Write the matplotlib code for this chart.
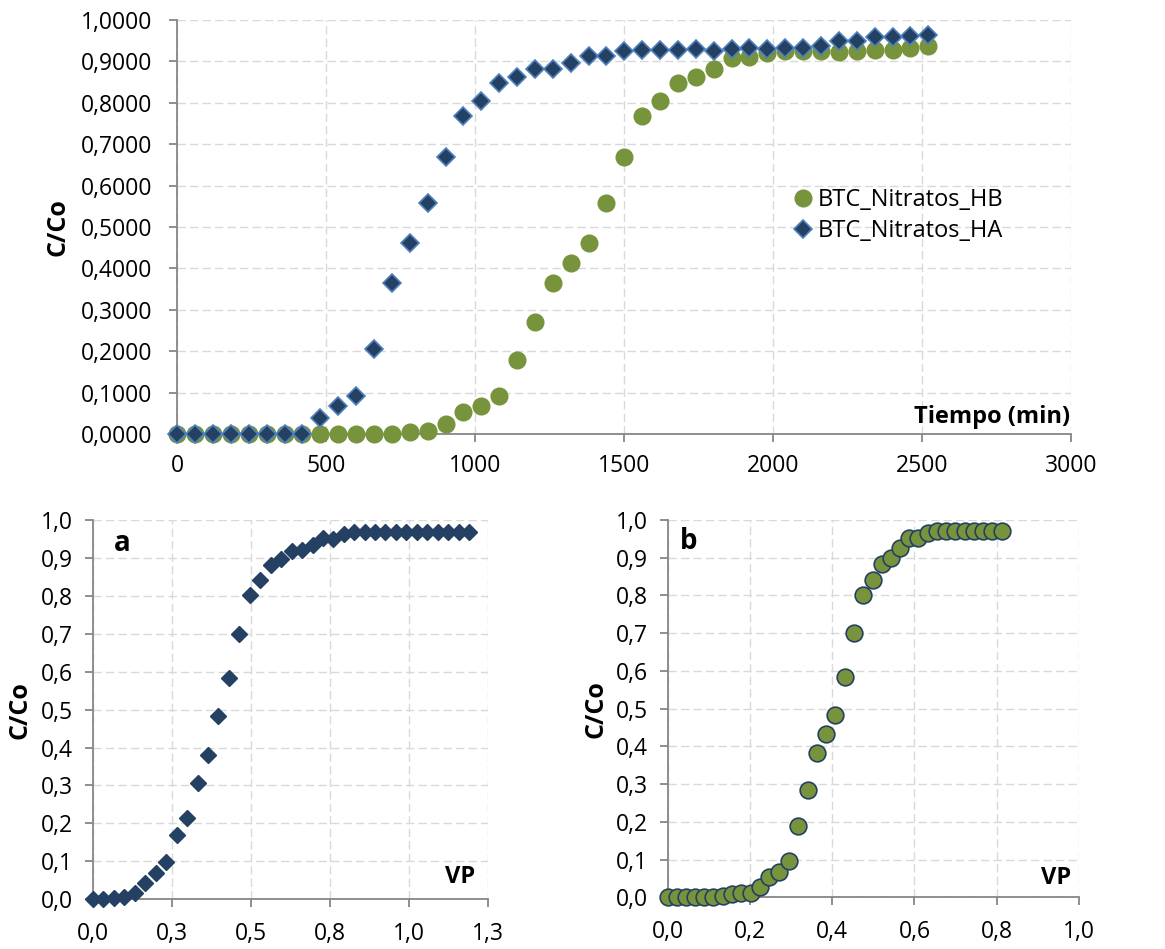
import matplotlib
matplotlib.use("Agg")
import matplotlib.pyplot as plt

plt.rcParams['font.family'] = ['Open Sans', 'DejaVu Sans']

# top chart: breakthrough curves vs time
time_min = [0, 60, 120, 180, 240, 300, 360, 420, 480, 540, 600, 660, 720, 780, 840,
            900, 960, 1020, 1080, 1140, 1200, 1260, 1320, 1380, 1440, 1500, 1560,
            1620, 1680, 1740, 1800, 1860, 1920, 1980, 2040, 2100, 2160, 2220, 2280,
            2340, 2400, 2460, 2520]
btc_hb = [0, 0, 0, 0, 0, 0, 0, 0, 0, 0, 0, 0, 0.001, 0.004, 0.008, 0.025, 0.052,
          0.067, 0.091, 0.179, 0.270, 0.365, 0.414, 0.462, 0.558, 0.668, 0.767,
          0.803, 0.847, 0.861, 0.882, 0.909, 0.910, 0.921, 0.924, 0.925, 0.925,
          0.922, 0.926, 0.928, 0.928, 0.931, 0.937]
btc_ha = [0, 0, 0, 0, 0, 0, 0, 0, 0.039, 0.068, 0.092, 0.206, 0.365, 0.462, 0.558,
          0.668, 0.767, 0.804, 0.847, 0.861, 0.881, 0.882, 0.896, 0.912, 0.913,
          0.926, 0.928, 0.928, 0.928, 0.929, 0.924, 0.929, 0.932, 0.930, 0.933,
          0.933, 0.936, 0.949, 0.948, 0.958, 0.958, 0.961, 0.963]

# panel a (HA) vs pore volumes
vp_a = [0, 0.032, 0.065, 0.098, 0.132, 0.165, 0.198, 0.230, 0.264, 0.297, 0.331,
        0.363, 0.396, 0.430, 0.463, 0.497, 0.529, 0.562, 0.596, 0.629, 0.663,
        0.695, 0.728, 0.761, 0.794, 0.827, 0.860, 0.893, 0.926, 0.959, 0.992,
        1.026, 1.059, 1.092, 1.125, 1.158, 1.191]
cc_a = [0, 0, 0.003, 0.005, 0.016, 0.042, 0.070, 0.097, 0.170, 0.215, 0.306,
        0.381, 0.482, 0.583, 0.699, 0.801, 0.842, 0.881, 0.897, 0.919, 0.921,
        0.934, 0.952, 0.949, 0.963, 0.967, 0.969, 0.969, 0.969, 0.969, 0.969,
        0.969, 0.969, 0.969, 0.969, 0.969, 0.969]

# panel b (HB) vs pore volumes
vp_b = [0, 0.022, 0.045, 0.066, 0.089, 0.111, 0.134, 0.156, 0.179, 0.203, 0.225,
        0.247, 0.271, 0.294, 0.317, 0.340, 0.362, 0.385, 0.408, 0.430, 0.452,
        0.476, 0.498, 0.520, 0.542, 0.565, 0.587, 0.609, 0.632, 0.654, 0.677,
        0.699, 0.722, 0.745, 0.767, 0.789, 0.812]
cc_b = [0, 0, 0, 0, 0, 0, 0.003, 0.008, 0.011, 0.011, 0.028, 0.055, 0.068, 0.096,
        0.189, 0.283, 0.383, 0.432, 0.483, 0.585, 0.700, 0.801, 0.841, 0.882,
        0.898, 0.925, 0.951, 0.951, 0.966, 0.971, 0.971, 0.971, 0.971, 0.971,
        0.971, 0.971, 0.971]

top_xticks = [0, 500, 1000, 1500, 2000, 2500, 3000]
top_yticks = [0, 0.1, 0.2, 0.3, 0.4, 0.5, 0.6, 0.7, 0.8, 0.9, 1.0]
top_ylabels = ['0,0000', '0,1000', '0,2000', '0,3000', '0,4000', '0,5000',
               '0,6000', '0,7000', '0,8000', '0,9000', '1,0000']
panel_yticks = [0, 0.1, 0.2, 0.3, 0.4, 0.5, 0.6, 0.7, 0.8, 0.9, 1.0]
panel_ylabels = ['0,0', '0,1', '0,2', '0,3', '0,4', '0,5', '0,6', '0,7', '0,8', '0,9', '1,0']
a_xticks = [0, 0.25, 0.5, 0.75, 1.0, 1.25]
a_xlabels = ['0,0', '0,3', '0,5', '0,8', '1,0', '1,3']
b_xticks = [0, 0.2, 0.4, 0.6, 0.8, 1.0]
b_xlabels = ['0,0', '0,2', '0,4', '0,6', '0,8', '1,0']

NAVY = '#244062'
LIGHT_BLUE = '#4F81BD'
GREEN = '#77933C'
AXIS_GREY = '#868686'
GRID_GREY = '#D9D9D9'
TICK_SIZE = 16.5


def style_axes(ax, ypad, xpad):
    ax.set_axisbelow(True)
    ax.grid(True, color=GRID_GREY, linewidth=1.0, linestyle=(0, (6, 3)))
    for side in ['top', 'right']:
        ax.spines[side].set_visible(False)
    for side in ['left', 'bottom']:
        ax.spines[side].set_color(AXIS_GREY)
        ax.spines[side].set_linewidth(1.3)
    ax.tick_params(direction='out', length=5.5, width=1.3, color=AXIS_GREY,
                   labelsize=TICK_SIZE, labelcolor='black')
    ax.tick_params(axis='y', pad=ypad)
    ax.tick_params(axis='x', pad=xpad)


fig = plt.figure(figsize=(11.65, 9.49), dpi=100)

# ---- top chart ----
ax = fig.add_axes([0.1522, 0.5427, 0.7674, 0.4363])
ax.plot(time_min, btc_hb, linestyle='none', marker='o', markersize=12,
        color=GREEN, markeredgecolor=GREEN, clip_on=False, zorder=3,
        label='BTC_Nitratos_HB')
ax.plot(time_min, btc_ha, linestyle='none', marker='D', markersize=9,
        color=NAVY, markeredgecolor=LIGHT_BLUE, markeredgewidth=1.2,
        clip_on=False, zorder=4, label='BTC_Nitratos_HA')
ax.set_xlim(0, 3000)
ax.set_ylim(0, 1)
ax.set_xticks(top_xticks)
ax.set_yticks(top_yticks)
ax.set_yticklabels(top_ylabels)
style_axes(ax, ypad=12.5, xpad=9)
ax.set_ylabel('C/Co', fontsize=18, fontweight='bold', va='center')
ax.yaxis.set_label_coords(-0.134, 0.5)
ax.text(0.999, 0.012, 'Tiempo (min)', transform=ax.transAxes, ha='right',
        va='bottom', fontsize=17, fontweight='bold')
ax.legend(loc='center left', bbox_to_anchor=(0.687, 0.527), frameon=False,
          borderaxespad=0, borderpad=0, handletextpad=0.15, handlelength=0.95,
          labelspacing=0.3, fontsize=17, numpoints=1)

# ---- panel a ----
ax_a = fig.add_axes([0.0801, 0.0524, 0.3385, 0.3997])
ax_a.plot(vp_a, cc_a, linestyle='none', marker='D', markersize=8.5,
          color=NAVY, markeredgecolor=NAVY, clip_on=False, zorder=3)
ax_a.set_xlim(0, 1.25)
ax_a.set_ylim(0, 1)
ax_a.set_xticks(a_xticks)
ax_a.set_xticklabels(a_xlabels)
ax_a.set_yticks(panel_yticks)
ax_a.set_yticklabels(panel_ylabels)
style_axes(ax_a, ypad=9, xpad=11)
ax_a.set_ylabel('C/Co', fontsize=18, fontweight='bold', va='center')
ax_a.yaxis.set_label_coords(-0.186, 0.5)
ax_a.text(0.968, 0.026, 'VP', transform=ax_a.transAxes, ha='right',
          va='bottom', fontsize=17, fontweight='bold')
ax_a.text(0.0735, 0.919, 'a', transform=ax_a.transAxes, ha='center',
          va='baseline', fontsize=20, fontweight='bold')

# ---- panel b ----
ax_b = fig.add_axes([0.5731, 0.0545, 0.3531, 0.3976])
ax_b.plot(vp_b, cc_b, linestyle='none', marker='o', markersize=12,
          color=GREEN, markeredgecolor='#254061', markeredgewidth=1.2,
          clip_on=False, zorder=3)
ax_b.set_xlim(0, 1.0)
ax_b.set_ylim(0, 1)
ax_b.set_xticks(b_xticks)
ax_b.set_xticklabels(b_xlabels)
ax_b.set_yticks(panel_yticks)
ax_b.set_yticklabels(panel_ylabels)
style_axes(ax_b, ypad=9, xpad=11)
ax_b.set_ylabel('C/Co', fontsize=18, fontweight='bold', va='center')
ax_b.yaxis.set_label_coords(-0.174, 0.5)
ax_b.text(0.980, 0.018, 'VP', transform=ax_b.transAxes, ha='right',
          va='bottom', fontsize=17, fontweight='bold')
ax_b.text(0.050, 0.922, 'b', transform=ax_b.transAxes, ha='center',
          va='baseline', fontsize=20, fontweight='bold')

fig.savefig('out.png', dpi=100, facecolor='white')
plt.close(fig)
